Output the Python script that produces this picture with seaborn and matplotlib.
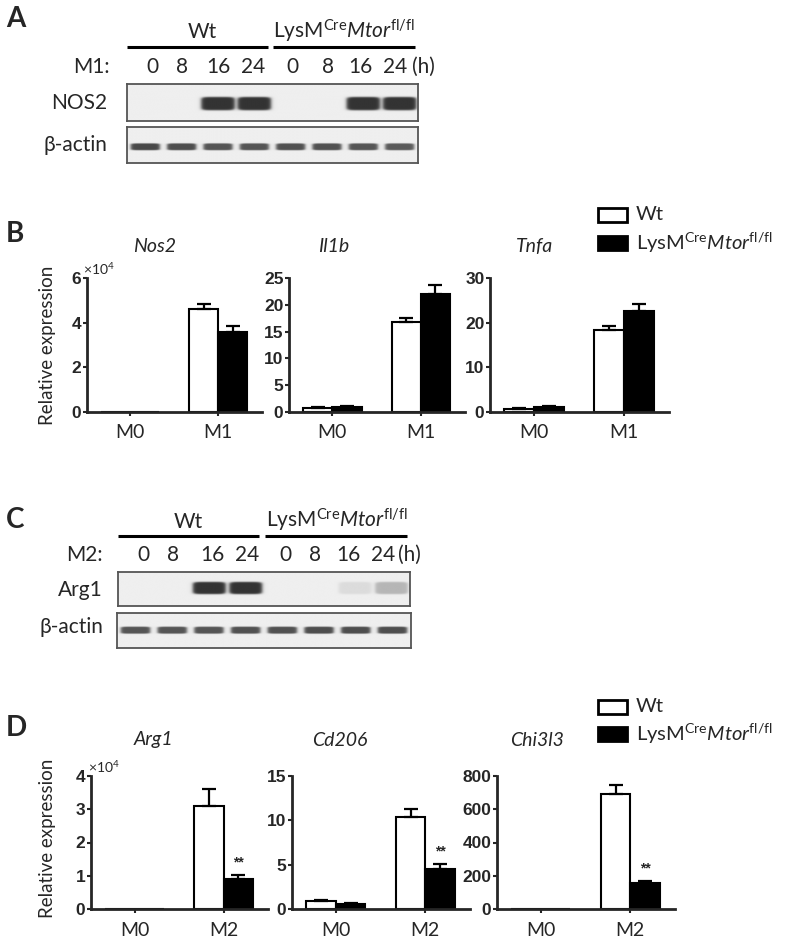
import numpy as np
import pandas as pd
import matplotlib
matplotlib.use("Agg")
import matplotlib.pyplot as plt
from matplotlib.lines import Line2D
from matplotlib.patches import Rectangle
import seaborn as sns

sns.set_style("ticks")
plt.rcParams['font.family'] = ['Lato', 'DejaVu Sans']
plt.rcParams['mathtext.fontset'] = 'custom'
plt.rcParams['mathtext.rm'] = 'Lato'
plt.rcParams['mathtext.it'] = 'Lato:italic'
plt.rcParams['mathtext.bf'] = 'Lato:bold'

# ---------------- data ----------------
genotypes = ["Wt", "KO"]
ko_label = r"LysM$^{\mathrm{Cre}}$$\mathit{Mtor}$$^{\mathrm{fl/fl}}$"

m1_conditions = ["M0", "M1"]
m2_conditions = ["M0", "M2"]

nos2_wt = [0.0, 4.6]          # x10^4
nos2_wt_err = [0.0, 0.25]
nos2_ko = [0.0, 3.6]
nos2_ko_err = [0.0, 0.27]

il1b_wt = [0.8, 16.7]
il1b_wt_err = [0.15, 0.9]
il1b_ko = [1.0, 22.0]
il1b_ko_err = [0.2, 1.7]

tnfa_wt = [0.7, 18.4]
tnfa_wt_err = [0.15, 0.85]
tnfa_ko = [1.2, 22.6]
tnfa_ko_err = [0.2, 1.6]

arg1_wt = [0.0, 3.1]          # x10^4
arg1_wt_err = [0.0, 0.51]
arg1_ko = [0.0, 0.9]
arg1_ko_err = [0.0, 0.13]

cd206_wt = [0.93, 10.4]
cd206_wt_err = [0.1, 0.9]
cd206_ko = [0.6, 4.55]
cd206_ko_err = [0.08, 0.55]

chi3l3_wt = [0.0, 691]
chi3l3_wt_err = [0.0, 53]
chi3l3_ko = [0.0, 158]
chi3l3_ko_err = [0.0, 12]

# significance marks (KO vs Wt at stimulated condition)
arg1_sig = ["", "**"]
cd206_sig = ["", "**"]
chi3l3_sig = ["", "**"]

# western blot lanes / band intensities
lane_hours = ["0", "8", "16", "24", "0", "8", "16", "24"]
nos2_band = [0, 0, 1, 1, 0, 0, 1, 1]
actin_a_band = [0.95, 0.92, 0.88, 0.88, 0.9, 0.9, 0.88, 0.85]
arg1_band = [0, 0, 1, 1, 0, 0, 0.1, 0.3]
actin_c_band = [0.88, 0.88, 0.88, 0.9, 0.9, 0.92, 0.92, 0.92]

# ---------------- figure ----------------
W, H = 800, 944
fig = plt.figure(figsize=(W / 100, H / 100), dpi=100)


def ax_px(x0, y0, x1, y1):
    return fig.add_axes([x0 / W, 1 - y1 / H, (x1 - x0) / W, (y1 - y0) / H])


def T(x, y, s, **kw):
    kw.setdefault('va', 'center')
    fig.text(x / W, 1 - y / H, s, **kw)


def L(x0, y0, x1, y1, lw=2.2, color='black'):
    fig.add_artist(Line2D([x0 / W, x1 / W], [1 - y0 / H, 1 - y1 / H],
                          transform=fig.transFigure, lw=lw, color=color,
                          solid_capstyle='butt'))


# ---------------- western blots ----------------
def blot(box, intens, bw, bh, yc, dark=0.2, bg=0.935):
    ax = ax_px(*box)
    nx, ny = 800, 120
    xs = np.linspace(0, 8, nx)
    ys = np.linspace(0, 1, ny)
    X, Y = np.meshgrid(xs, ys)
    img = np.zeros_like(X)
    for i, v in enumerate(intens):
        dx = np.abs((X - (i + 0.5)) / (bw / 2))
        dy = np.abs((Y - yc) / (bh / 2))
        # rounded-rectangle band (superellipse) with soft edge
        r = (dx ** 6 + dy ** 6) ** (1 / 6)
        prof = 1.0 / (1.0 + np.exp((r - 1.0) / 0.06))
        img += v * prof
    img = np.clip(img, 0, 1)
    val = bg - img * (bg - dark)
    ax.imshow(val, cmap='gray', vmin=0, vmax=1, aspect='auto',
              extent=(0, 8, 1, 0), interpolation='bilinear')
    ax.set_xlim(0, 8)
    ax.set_ylim(1, 0)
    ax.set_xticks([])
    ax.set_yticks([])
    for s in ax.spines.values():
        s.set_color('#555555')
        s.set_linewidth(1.3)
    return ax


blab = dict(fontsize=15)

# Panel A
T(16, 19, "A", fontsize=20, fontweight='bold', ha='center')
L(127, 47, 268, 47)
L(273, 47, 415, 47)
T(202, 32, "Wt", ha='center', **blab)
T(344, 31, ko_label, ha='center', **blab)
T(110, 67, "M1:", ha='right', **blab)
for xx, lab in zip([152, 182, 218, 253, 292, 328, 360, 395], lane_hours):
    T(xx, 67, lab, ha='center', **blab)
T(423, 67, "(h)", ha='center', **blab)
blot((127, 84, 418, 121), nos2_band, 0.92, 0.36, 0.53)
blot((127, 127, 418, 163), actin_a_band, 0.8, 0.19, 0.55, dark=0.25)
T(107, 103, "NOS2", ha='right', **blab)
T(107, 145, "β-actin", ha='right', **blab)

# Panel C
T(15, 520, "C", fontsize=20, fontweight='bold', ha='center')
L(118, 536, 259, 536)
L(265, 536, 407, 536)
T(188, 522, "Wt", ha='center', **blab)
T(337, 520, ko_label, ha='center', **blab)
T(103, 555, "M2:", ha='right', **blab)
for xx, lab in zip([143, 173, 212, 247, 285, 315, 348, 383], lane_hours):
    T(xx, 555, lab, ha='center', **blab)
T(409, 555, "(h)", ha='center', **blab)
blot((118, 572, 410, 606), arg1_band, 0.9, 0.36, 0.47)
blot((117, 613, 411, 648), actin_c_band, 0.8, 0.2, 0.49, dark=0.25)
T(103, 590, "Arg1", ha='right', **blab)
T(103, 627, "β-actin", ha='right', **blab)

# ---------------- bar charts ----------------
tick_font = dict(family=['Liberation Sans Narrow', 'Liberation Sans'],
                 weight='bold', size=12.5)


def bar_panel(box, conds, wt, wt_err, ko, ko_err, ymax, yticks, sig=None):
    ax = ax_px(*box)
    df = pd.DataFrame({
        "cond": conds * 2,
        "geno": [genotypes[0]] * len(conds) + [genotypes[1]] * len(conds),
        "val": list(wt) + list(ko),
    })
    sns.barplot(data=df, x="cond", y="val", hue="geno", order=conds,
                hue_order=genotypes, palette=["white", "black"],
                edgecolor="black", linewidth=1.5, width=0.66,
                errorbar=None, legend=False, ax=ax, zorder=2)
    for cont, errs in zip(ax.containers, [wt_err, ko_err]):
        for p, e in zip(cont.patches, errs):
            if e <= 0:
                continue
            xc = p.get_x() + p.get_width() / 2
            ax.errorbar([xc], [p.get_height()], yerr=[[0], [e]], fmt='none',
                        ecolor='black', elinewidth=1.6, capsize=5.2,
                        capthick=1.6, zorder=3, clip_on=False)
    if sig is not None:
        for p, s, e in zip(ax.containers[1].patches, sig, ko_err):
            if s:
                xc = p.get_x() + p.get_width() / 2
                ax.annotate(s, (xc, p.get_height() + e), xytext=(0, 4),
                            textcoords='offset points', ha='center',
                            va='bottom', fontsize=10, fontweight='bold',
                            family=['Liberation Sans', 'DejaVu Sans'])
    ax.set_xlim(-0.49, 1.5)
    ax.set_ylim(0, ymax)
    ax.set_yticks(yticks)
    ax.set_yticklabels([str(t) for t in yticks], fontdict=tick_font)
    ax.set_xticks([0, 1])
    ax.set_xticklabels(conds, fontsize=14)
    ax.set_xlabel("")
    ax.set_ylabel("")
    sns.despine(ax=ax)
    for s in ["left", "bottom"]:
        ax.spines[s].set_linewidth(2.0)
        ax.spines[s].set_zorder(4)
    ax.tick_params(axis='y', length=3, width=1.5, pad=1)
    ax.tick_params(axis='x', length=3, width=1.5, pad=6)
    ax.patch.set_alpha(0)
    return ax


# Panel B
T(15, 234, "B", fontsize=20, fontweight='bold', ha='center')
bar_panel((87, 278, 262, 412), m1_conditions, nos2_wt, nos2_wt_err,
          nos2_ko, nos2_ko_err, 6, [0, 2, 4, 6])
bar_panel((289, 278, 465, 412), m1_conditions, il1b_wt, il1b_wt_err,
          il1b_ko, il1b_ko_err, 25, [0, 5, 10, 15, 20, 25])
bar_panel((490, 278, 669, 412), m1_conditions, tnfa_wt, tnfa_wt_err,
          tnfa_ko, tnfa_ko_err, 30, [0, 10, 20, 30])
T(155, 246, "Nos2", ha='center', fontsize=14, style='italic')
T(334, 246, "Il1b", ha='center', fontsize=14, style='italic')
T(535, 246, "Tnfa", ha='center', fontsize=14, style='italic')
T(83, 269, r"×10$^{4}$", ha='left', fontsize=10)
T(48, 345, "Relative expression", ha='center', rotation=90, fontsize=13.5)

# Panel D
T(16, 728, "D", fontsize=20, fontweight='bold', ha='center')
bar_panel((91, 776, 268, 909), m2_conditions, arg1_wt, arg1_wt_err,
          arg1_ko, arg1_ko_err, 4, [0, 1, 2, 3, 4], sig=arg1_sig)
bar_panel((292, 776, 470, 909), m2_conditions, cd206_wt, cd206_wt_err,
          cd206_ko, cd206_ko_err, 15, [0, 5, 10, 15], sig=cd206_sig)
bar_panel((497, 776, 675, 909), m2_conditions, chi3l3_wt, chi3l3_wt_err,
          chi3l3_ko, chi3l3_ko_err, 800, [0, 200, 400, 600, 800], sig=chi3l3_sig)
T(153, 740, "Arg1", ha='center', fontsize=14, style='italic')
T(340, 740, "Cd206", ha='center', fontsize=14, style='italic')
T(537, 740, "Chi3l3", ha='center', fontsize=14, style='italic')
T(88, 767, r"×10$^{4}$", ha='left', fontsize=10)
T(48, 838, "Relative expression", ha='center', rotation=90, fontsize=13.5)

# ---------------- legends ----------------
def legend_at(y_wt, y_ko):
    for (y0, y1), fc, lab in [((y_wt - 7, y_wt + 7), 'white', "Wt"),
                              ((y_ko - 7, y_ko + 7), 'black', ko_label)]:
        r = Rectangle((598 / W, 1 - y1 / H), 29 / W, (y1 - y0) / H,
                      transform=fig.transFigure, facecolor=fc,
                      edgecolor='black', lw=2.0)
        fig.add_artist(r)
        T(636, (y0 + y1) / 2, lab, ha='left', fontsize=14.5)


legend_at(215, 243)
legend_at(707, 734)

fig.savefig("out.png", dpi=100)
